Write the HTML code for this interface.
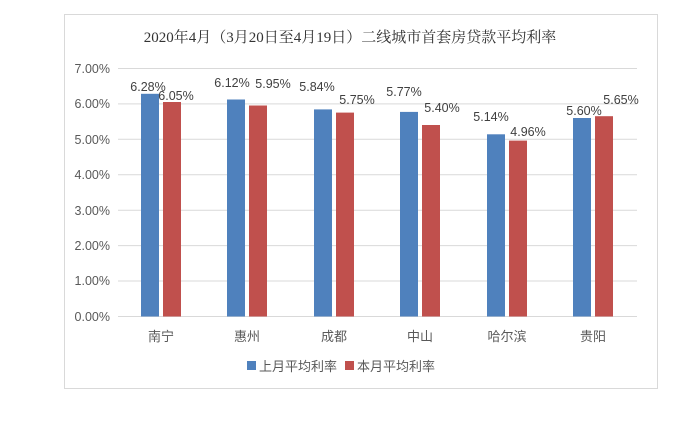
<!DOCTYPE html><html><head><meta charset="utf-8"><style>body{margin:0;background:#fff;width:700px;height:417px;overflow:hidden}</style></head><body>
<svg width="700" height="417" xmlns="http://www.w3.org/2000/svg" font-family="Liberation Sans, Noto Sans CJK SC, sans-serif">
<rect x="64.5" y="14.5" width="593" height="374" fill="#fff" stroke="#d9d9d9"/>
<text x="350" y="42" text-anchor="middle" font-size="15" fill="#333" font-family="Liberation Serif, Noto Serif CJK SC, serif">2020年4月（3月20日至4月19日）二线城市首套房贷款平均利率</text>
<g stroke="#d9d9d9" stroke-width="1">
<line x1="118" x2="637" y1="68.5" y2="68.5"/><line x1="118" x2="637" y1="103.9" y2="103.9"/><line x1="118" x2="637" y1="139.3" y2="139.3"/><line x1="118" x2="637" y1="174.8" y2="174.8"/><line x1="118" x2="637" y1="210.2" y2="210.2"/><line x1="118" x2="637" y1="245.6" y2="245.6"/><line x1="118" x2="637" y1="281" y2="281"/><line x1="118" x2="637" y1="316.5" y2="316.5"/>
</g>
<g font-size="12.5" fill="#595959" text-anchor="end">
<text x="110" y="73">7.00%</text><text x="110" y="108">6.00%</text><text x="110" y="144">5.00%</text><text x="110" y="179">4.00%</text><text x="110" y="215">3.00%</text><text x="110" y="250">2.00%</text><text x="110" y="285">1.00%</text><text x="110" y="321">0.00%</text>
</g>
<g font-size="12.5" fill="#404040" text-anchor="middle">
<rect x="141" y="93.8" width="18" height="222.7" fill="#4f81bd"/><rect x="163" y="102" width="18" height="214.5" fill="#c0504d"/>
<text x="148" y="91">6.28%</text><text x="176" y="100">6.05%</text>
<rect x="227" y="99.5" width="18" height="217" fill="#4f81bd"/><rect x="249" y="105.5" width="18" height="211" fill="#c0504d"/>
<text x="232" y="87">6.12%</text><text x="273" y="88">5.95%</text>
<rect x="314" y="109.4" width="18" height="207.1" fill="#4f81bd"/><rect x="336" y="112.6" width="18" height="203.9" fill="#c0504d"/>
<text x="317" y="91">5.84%</text><text x="357" y="104">5.75%</text>
<rect x="400" y="111.9" width="18" height="204.6" fill="#4f81bd"/><rect x="422" y="125" width="18" height="191.5" fill="#c0504d"/>
<text x="404" y="96">5.77%</text><text x="442" y="112">5.40%</text>
<rect x="487" y="134.3" width="18" height="182.2" fill="#4f81bd"/><rect x="509" y="140.6" width="18" height="175.9" fill="#c0504d"/>
<text x="491" y="121">5.14%</text><text x="528" y="136">4.96%</text>
<rect x="573" y="118" width="18" height="198.5" fill="#4f81bd"/><rect x="595" y="116.2" width="18" height="200.3" fill="#c0504d"/>
<text x="584" y="115">5.60%</text><text x="621" y="104">5.65%</text>
</g>
<g font-size="13" fill="#595959" text-anchor="middle">
<text x="161" y="341">南宁</text><text x="247" y="341">惠州</text><text x="334" y="341">成都</text><text x="420" y="341">中山</text><text x="507" y="341">哈尔滨</text><text x="593" y="341">贵阳</text>
</g>
<rect x="247" y="361" width="9" height="9" fill="#4f81bd"/>
<text x="259" y="371" font-size="13" fill="#595959">上月平均利率</text>
<rect x="345" y="361" width="9" height="9" fill="#c0504d"/>
<text x="357" y="371" font-size="13" fill="#595959">本月平均利率</text>
</svg>
</body></html>
